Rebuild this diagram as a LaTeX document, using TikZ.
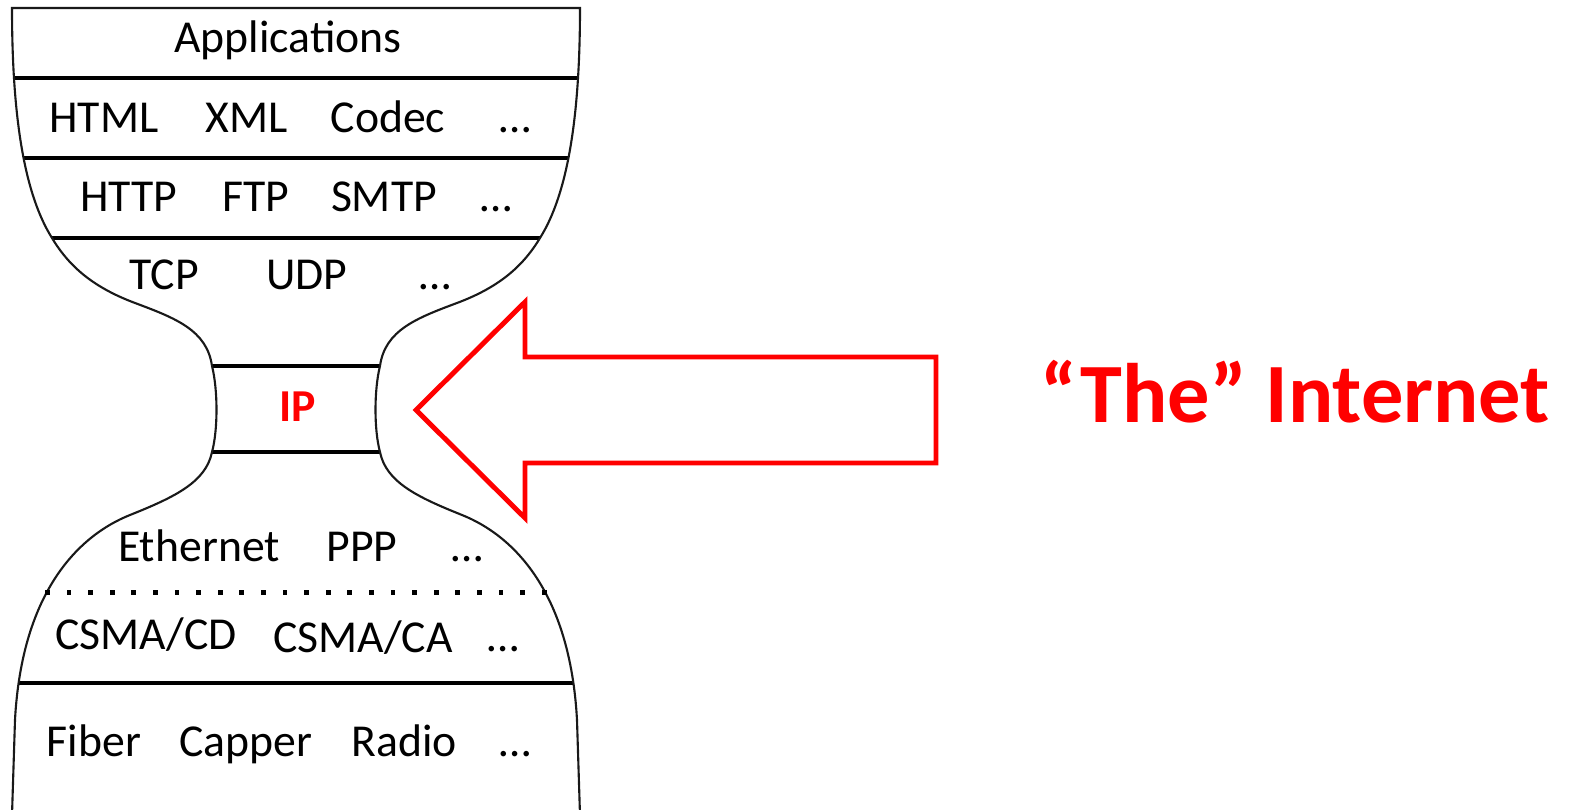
\documentclass[tikz,border=0pt]{standalone}
\usepackage{fontspec}
\setmainfont{Carlito}
\begin{document}
\begin{tikzpicture}[x=0.01cm,y=-0.01cm,
  lbl/.style={font=\fontsize{13}{15}\selectfont, anchor=base, inner sep=0pt},
  iplbl/.style={font=\fontsize{13}{15}\selectfont\bfseries, text=red, anchor=base, inner sep=0pt},
  biglbl/.style={font=\fontsize{24}{28}\selectfont\bfseries, text=red, anchor=base west, inner sep=0pt},
  outline/.style={draw=black!90, line width=0.6pt},
  divider/.style={draw=black, line width=1.25pt},
  bigarrow/.style={draw=red, line width=1.4pt, line join=miter}]
\fill[white] (0,0) rectangle (1569,810);
\useasboundingbox (0,0) rectangle (1569,810);

% hourglass outline of the protocol stack
\def\stackoutline{(12,815) -- (15,720)
  .. controls (22,590) and (80,535) .. (130,515)
  .. controls (175,497) and (206,482) .. (212,452)
  .. controls (218,430) and (218,390) .. (212,366)
  .. controls (207,330) and (175,318) .. (135,303)
  .. controls (95,288) and (70,268) .. (52,238)
  .. controls (25,195) and (12,120) .. (12,8)
  -- (580,8)
  .. controls (580,120) and (567,195) .. (540,238)
  .. controls (522,268) and (497,288) .. (457,303)
  .. controls (417,318) and (385,330) .. (380,366)
  .. controls (374,390) and (374,430) .. (380,452)
  .. controls (386,482) and (417,497) .. (462,515)
  .. controls (512,535) and (570,590) .. (577,720)
  -- (580,815) -- cycle}

% layer separators, cut at the outline
\begin{scope}
  \clip \stackoutline;
  \foreach \yy in {78,158,238,366,452,683}
    \draw[divider] (0,\yy) -- (600,\yy);
\end{scope}
\draw[outline] \stackoutline;

% dotted separator inside the link layer
\foreach \i in {0,...,23}
  \fill (45+\i*21.6,590.5) rectangle ++(4.8,4.8);

% layer labels
\node[lbl] (app) at (288,53) {Applications};

\node[lbl] (html) at (104,133) {HTML};
\node[lbl] (xml) at (247,133) {XML};
\node[lbl] (codec) at (388,133) {Codec};
\node[lbl] (dots1) at (515,133) {…};

\node[lbl] (http) at (129,212) {HTTP};
\node[lbl] (ftp) at (256,212) {FTP};
\node[lbl] (smtp) at (384,212) {SMTP};
\node[lbl] (dots2) at (496,212) {…};

\node[lbl] (tcp) at (164,290) {TCP};
\node[lbl] (udp) at (307,290) {UDP};
\node[lbl] (dots3) at (435,290) {…};

\node[iplbl] (ip) at (298,422) {IP};

\node[lbl] (eth) at (199,562) {Ethernet};
\node[lbl] (ppp) at (362,562) {PPP};
\node[lbl] (dots4) at (467,562) {…};

\node[lbl] (csmacd) at (146,650) {CSMA/CD};
\node[lbl] (csmaca) at (363,653) {CSMA/CA};
\node[lbl] (dots5) at (503,652) {…};

\node[lbl] (fiber) at (94,757) {Fiber};
\node[lbl] (capper) at (246,757) {Capper};
\node[lbl] (radio) at (404,757) {Radio};
\node[lbl] (dots6) at (515,757) {…};

% block arrow pointing at the IP layer
\draw[bigarrow] (416,410) -- (525,302) -- (525,357) -- (936,357)
  -- (936,463) -- (525,463) -- (525,518) -- cycle;

\node[biglbl] (inet) at (1040,423) {“The” Internet};
\end{tikzpicture}
\end{document}
